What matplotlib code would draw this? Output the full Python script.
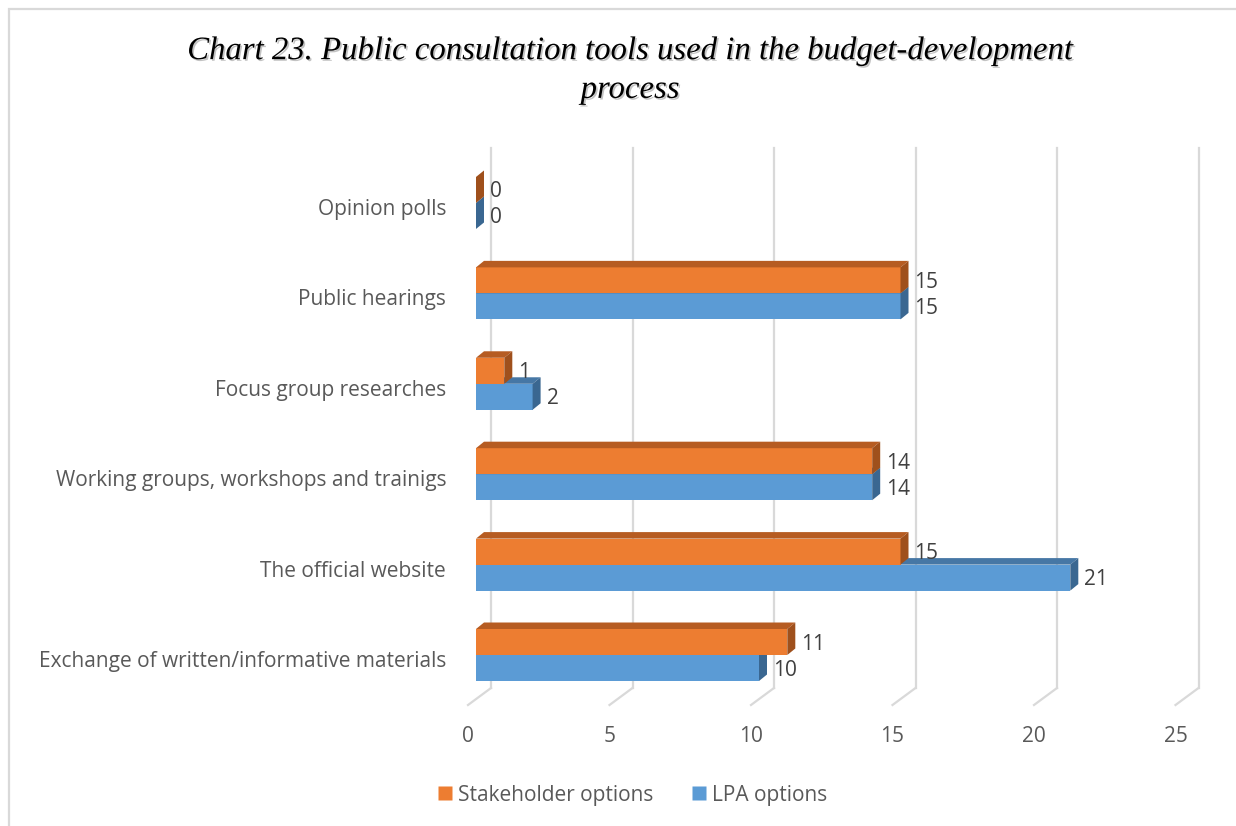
import matplotlib
matplotlib.use("Agg")
import matplotlib.pyplot as plt
from matplotlib.patches import Polygon, Rectangle
from matplotlib.lines import Line2D
import matplotlib.patheffects as pe

# ---- data -------------------------------------------------------------
categories = [
    "Exchange of written/informative materials",
    "The official website",
    "Working groups, workshops and trainigs",
    "Focus group researches",
    "Public hearings",
    "Opinion polls",
]
stakeholder_options = [11, 15, 14, 1, 15, 0]
lpa_options = [10, 21, 14, 2, 15, 0]
x_ticks = [0, 5, 10, 15, 20, 25]
series_names = ["Stakeholder options", "LPA options"]
title_text = "Chart 23. Public consultation tools used in the budget-development\nprocess"

# ---- style ------------------------------------------------------------
ORANGE = ("#ED7D31", "#B65C22", "#9F501C")   # front, top, side
BLUE = ("#5B9BD5", "#4677A5", "#3A6791")
GRID = "#D9D9D9"
TEXT = "#595959"
LABEL = "#404040"
FONT = "Open Sans"
FS = 15

W, H = 1236, 826
fig = plt.figure(figsize=(W / 100, H / 100), dpi=100)
ax = fig.add_axes([476 / W, 1 - 688 / H, 707.5 / W, 540 / H])
ax.set_xlim(0, 25)
ax.set_ylim(-0.365, 5.608)
for s in ax.spines.values():
    s.set_visible(False)
ax.set_xticks([])
ax.set_yticks(range(len(categories)))
ax.set_yticklabels(categories, fontsize=FS, color=TEXT, family=FONT)
ax.tick_params(axis="y", length=0, pad=21.5)
for lbl in ax.get_yticklabels():
    lbl.set_transform(lbl.get_transform() +
                      matplotlib.transforms.ScaledTranslation(0, -0.04,
                                                              fig.dpi_scale_trans))

# pixel sizes of one data unit, for the 3-D depth effect
p0 = ax.transData.transform((0, 0))
p1 = ax.transData.transform((1, 1))
sx, sy = p1[0] - p0[0], p1[1] - p0[1]
depth_x, depth_y = 8 / sx, 6.5 / sy          # bar depth
wall_x = 15 / sx                             # back wall offset
floor_x, floor_y = 23 / sx, 17 / sy          # floor slant

bar_h = 26 / sy
y_lo, y_hi = ax.get_ylim()

# back-wall gridlines with floor slant
for t in x_ticks:
    xb = t + wall_x
    ax.add_line(Line2D([xb, xb], [y_lo, y_hi], color=GRID, lw=1.6,
                       clip_on=False, zorder=0))
    ax.add_line(Line2D([xb, xb - floor_x], [y_lo, y_lo - floor_y], color=GRID,
                       lw=1.6, clip_on=False, zorder=0))
    ax.annotate(str(t), xy=(xb - floor_x, y_lo), xytext=(0, -48),
                textcoords="offset pixels", ha="center", va="center",
                fontsize=FS, color=TEXT, family=FONT, annotation_clip=False)


def bars3d(values, base, colors, z):
    front, top, side = colors
    ax.barh([i + base for i in range(len(values))], values, height=bar_h,
            align="edge", color=front, zorder=z, linewidth=0)
    for i, v in enumerate(values):
        y0, y1 = i + base, i + base + bar_h
        ax.add_patch(Polygon([(0, y1), (v, y1), (v + depth_x, y1 + depth_y),
                              (depth_x, y1 + depth_y)], closed=True,
                             facecolor=top, edgecolor="none", zorder=z))
        ax.add_patch(Polygon([(v, y0), (v, y1), (v + depth_x, y1 + depth_y),
                              (v + depth_x, y0 + depth_y)], closed=True,
                             facecolor=side, edgecolor="none", zorder=z))
        ax.annotate(str(v), xy=(v + depth_x, i + base + bar_h / 2),
                    xytext=(6, -2), textcoords="offset pixels", ha="left",
                    va="center", fontsize=FS, color=LABEL, family=FONT,
                    zorder=z + 1)


bars3d(lpa_options, -bar_h, BLUE, 2)
bars3d(stakeholder_options, 0, ORANGE, 3)

# title
fig.text(630 / W, 1 - 70 / H, title_text, ha="center", va="center",
         fontsize=23.6, style="italic", family="Liberation Serif",
         color="black", linespacing=1.35,
         path_effects=[pe.withSimplePatchShadow(offset=(1.2, -1.2),
                                                shadow_rgbFace="#888888",
                                                alpha=0.5)])

# legend
handles = [Line2D([], [], marker="s", linestyle="none", markersize=10.5,
                  markerfacecolor=c[0], markeredgecolor="none")
           for c in (ORANGE, BLUE)]
fig.legend(handles, series_names, loc="center",
           bbox_to_anchor=(633 / W, 1 - 795 / H), ncol=2, frameon=False,
           handlelength=0.6, handletextpad=0.3, columnspacing=1.9,
           prop={"family": FONT, "size": FS}, labelcolor=TEXT)

# chart frame
fig.patches.append(Rectangle((9 / W, -0.1), 1.2, 1.1 - 9 / H, fill=False,
                             edgecolor=GRID, lw=1.6,
                             transform=fig.transFigure, figure=fig))

fig.savefig("out.png", dpi=100, facecolor="white")
